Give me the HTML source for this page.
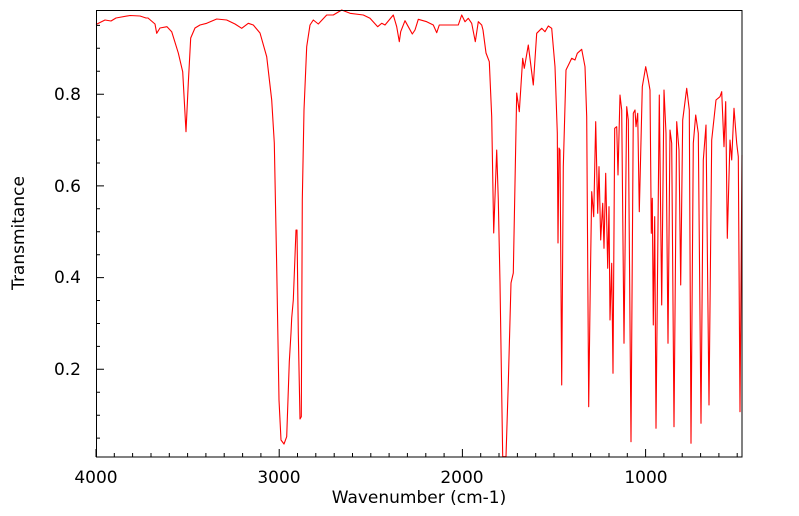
<!DOCTYPE html>
<html><head><meta charset="utf-8"><style>
html,body{margin:0;padding:0;background:#fff;}
svg{display:block;font-family:"DejaVu Sans","Liberation Sans",sans-serif;}
</style></head><body>
<svg width="799" height="516" viewBox="0 0 799 516" xmlns="http://www.w3.org/2000/svg">
<rect x="0" y="0" width="799" height="516" fill="#fff"/>
<path fill="none" stroke="#000" stroke-width="1" d="
M96,457V449 M114.3,457V453 M132.6,457V453 M151,457V453 M169.3,457V453 M187.6,457V453 M205.9,457V453 M224.2,457V453 M242.6,457V453 M260.9,457V453
M279.2,457V449 M297.5,457V453 M315.8,457V453 M334.2,457V453 M352.5,457V453 M370.8,457V453 M389.1,457V453 M407.4,457V453 M425.8,457V453 M444.1,457V453
M462.4,457V449 M480.7,457V453 M499,457V453 M517.4,457V453 M535.7,457V453 M554,457V453 M572.3,457V453 M590.6,457V453 M609,457V453 M627.3,457V453
M645.6,457V449 M663.9,457V453 M682.2,457V453 M700.6,457V453 M718.9,457V453 M737.2,457V453
M96,438.1H100 M96,415.2H100 M96,392.2H100 M96,369.3H104 M96,346.4H100 M96,323.5H100 M96,300.5H100 M96,277.6H104 M96,254.7H100 M96,231.8H100 M96,208.8H100 M96,185.9H104 M96,163H100 M96,140H100 M96,117.1H100 M96,94.2H104 M96,71.3H100 M96,48.3H100 M96,25.4H100"/>
<polyline fill="none" stroke="#ff0000" stroke-width="1.1" stroke-linejoin="round" points="
96,24.5 105,20 111,21 116,18 130,15.5 140,16 146,18 148,18 155,24 156.7,33.3 160,28 167,26.7 171.7,31.7 178.3,53 182.7,71.7 186,131.7 188.3,83 190.7,38 195,28 200,25 206.7,23.3 216.7,19 226.7,20 235,24 241.7,28.3 248.3,23.3 253.3,25 260,33 266.7,56.7 271.7,100 274.3,143 276.7,266.7 279,400 281,440 284,444 286.7,436.7 289.3,361.7 291,333 291.7,318 293.3,300 296,230 297,230 298.3,333 300,419 301.3,416.7 302.3,200 304,110 306.7,46.7 310,25 313.3,20 318.3,24 326.7,15 333.3,15 341.7,10 350,13.3 363.3,15 370,18.3 377.7,26.7 381.7,23.3 385,25 393.3,15 396.7,26.7 399.3,41.7 400.7,31.7 405,20.7 408.3,26.7 412.3,34 415,30 418.3,19.3 426.7,21.7 433.3,25 436.7,32.7 439.3,25 458.3,25 461.7,15 465,21.7 468.3,18.3 471.7,23.3 475.3,41.7 478.3,21.7 481.7,25 483,30 486,53 489.3,61.7 491.7,116.7 493.7,233 496.7,150 498.3,200 500,283 502.7,456.7 506,456.7 508.3,383 511,283 513.3,273 516.7,93 519.3,111.7 522.7,58.3 524.3,68.3 528.3,45 533.3,85 536.7,33.3 541.7,28.3 545,31.7 548.3,26 551.7,28.3 555,66.7 557.3,133 558,243 559,148 560,150 561.7,385 563.3,166.7 566,70 569.3,63.3 571.7,58.3 575,60 577.3,53.3 581.7,49.3 585,66.7 586.7,116.7 588.7,406.7 590.3,283 591.7,191.7 593.7,216.7 595.7,121.7 597.7,213.3 599,166.7 600.7,240 602.7,203.3 604,248.3 605.7,173.3 607.7,268.3 609,206.7 610,320 611.7,263.3 613,373.3 614.7,128.3 616.7,126.7 618,175 620,95 621.7,110 624,343.3 626.7,106.7 628.3,120 631,441.7 633.3,113.3 635,110 636,126.7 637.7,113.3 639.3,211.7 642.3,86.7 645.7,66.7 648.3,80 650,90 651.3,233.3 652.3,198.3 653.3,325 654.7,216.7 656,428.3 659.3,95 661.7,305 664,90 666,133.3 668,343.3 670,130 671.7,143.3 674,426.7 676.7,121.7 679,150 680.7,285 682.7,120 686.7,88.3 689.3,110 691,443.3 693.3,143.3 695.7,115 698.3,133.3 701,423.3 703.3,160 706,125 709,405 711.7,140 716,100 720,96.7 721.7,91.7 724,146.7 725.7,101.7 727.3,238.3 730,140 731.7,160 734,108.3 736.7,143.3 738.3,156.7 740,411.7 742,155"/>
<rect x="96.5" y="10.5" width="645.5" height="446.5" fill="none" stroke="#000" stroke-width="1"/>
<g font-size="17" fill="#000" text-anchor="middle">
<text x="96" y="483">4000</text>
<text x="279" y="483">3000</text>
<text x="462" y="483">2000</text>
<text x="646" y="483">1000</text>
<text x="419" y="503">Wavenumber (cm-1)</text>
</g>
<g font-size="17" fill="#000" text-anchor="end">
<text x="81" y="100">0.8</text>
<text x="81" y="192">0.6</text>
<text x="81" y="283">0.4</text>
<text x="81" y="375">0.2</text>
</g>
<text x="24" y="233" font-size="17" text-anchor="middle" transform="rotate(-90 24 233)">Transmitance</text>
</svg>
</body></html>
